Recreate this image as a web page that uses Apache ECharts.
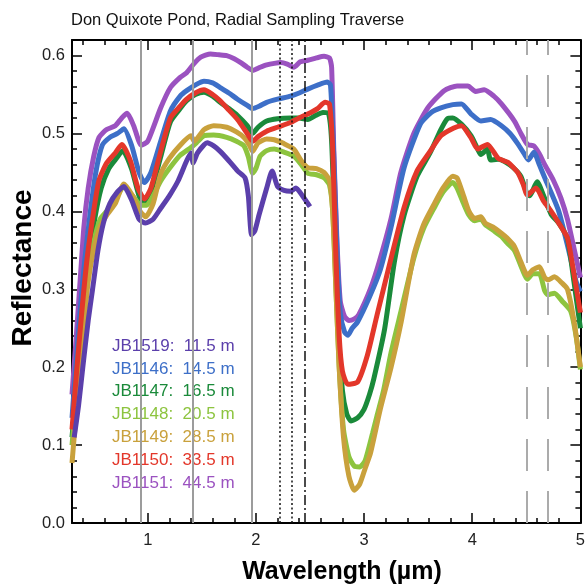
<!DOCTYPE html>
<html>
<head>
<meta charset="utf-8">
<script src="https://cdn.jsdelivr.net/npm/echarts@6/dist/echarts.min.js"></script>
<style>
  html, body { margin: 0; padding: 0; background: #fff; }
  #chart { width: 588px; height: 588px; }
</style>
</head>
<body>
<div id="chart"></div>
<script>
// samples, [wavelength um, reflectance]
const JB1519 = [[0.32,0.11],[0.36,0.15],[0.40,0.20],[0.45,0.26],[0.49,0.30],[0.54,0.35],[0.59,0.385],[0.65,0.41],[0.72,0.425],[0.78,0.432],[0.85,0.415],[0.92,0.39],[0.98,0.385],[1.05,0.39],[1.12,0.404],[1.2,0.42],[1.28,0.439],[1.36,0.465],[1.40,0.475],[1.42,0.462],[1.46,0.475],[1.55,0.488],[1.61,0.484],[1.67,0.477],[1.75,0.465],[1.83,0.452],[1.90,0.443],[1.93,0.42],[1.96,0.37],[1.99,0.375],[2.03,0.396],[2.1,0.43],[2.15,0.452],[2.2,0.432],[2.26,0.427],[2.32,0.426],[2.37,0.43],[2.43,0.42],[2.5,0.406]];
const JB1146 = [[0.30,0.135],[0.34,0.21],[0.38,0.28],[0.42,0.34],[0.47,0.40],[0.52,0.45],[0.58,0.485],[0.65,0.495],[0.72,0.50],[0.78,0.506],[0.85,0.485],[0.92,0.45],[0.97,0.437],[1.03,0.45],[1.12,0.49],[1.21,0.529],[1.3,0.548],[1.36,0.555],[1.45,0.563],[1.52,0.567],[1.6,0.565],[1.67,0.559],[1.75,0.552],[1.83,0.544],[1.92,0.536],[1.97,0.532],[2.03,0.535],[2.1,0.54],[2.2,0.544],[2.32,0.548],[2.4,0.552],[2.48,0.557],[2.57,0.562],[2.66,0.566],[2.69,0.562],[2.72,0.47],[2.75,0.35],[2.78,0.27],[2.82,0.245],[2.85,0.241],[2.89,0.25],[2.94,0.258],[3.05,0.29],[3.15,0.325],[3.25,0.38],[3.37,0.456],[3.52,0.512],[3.62,0.527],[3.71,0.533],[3.82,0.537],[3.9,0.538],[3.99,0.525],[4.08,0.516],[4.17,0.518],[4.27,0.51],[4.35,0.5],[4.42,0.487],[4.48,0.474],[4.52,0.466],[4.57,0.476],[4.62,0.46],[4.68,0.44],[4.8,0.40],[4.9,0.345],[4.96,0.31],[5.0,0.297]];
const JB1147 = [[0.30,0.11],[0.35,0.19],[0.40,0.27],[0.45,0.33],[0.51,0.39],[0.57,0.43],[0.64,0.455],[0.71,0.468],[0.77,0.478],[0.85,0.455],[0.92,0.42],[0.97,0.409],[1.03,0.425],[1.12,0.47],[1.21,0.515],[1.3,0.532],[1.36,0.542],[1.44,0.55],[1.52,0.553],[1.6,0.548],[1.67,0.54],[1.75,0.532],[1.83,0.523],[1.92,0.51],[1.97,0.5],[2.02,0.508],[2.1,0.516],[2.2,0.519],[2.32,0.52],[2.4,0.52],[2.48,0.518],[2.55,0.523],[2.62,0.527],[2.67,0.526],[2.70,0.49],[2.73,0.37],[2.76,0.25],[2.80,0.17],[2.84,0.14],[2.88,0.131],[2.94,0.135],[3.0,0.146],[3.05,0.165],[3.09,0.185],[3.19,0.249],[3.28,0.335],[3.37,0.395],[3.49,0.445],[3.61,0.475],[3.71,0.505],[3.77,0.519],[3.82,0.52],[3.9,0.512],[3.99,0.497],[4.05,0.48],[4.08,0.473],[4.14,0.48],[4.17,0.466],[4.24,0.467],[4.3,0.464],[4.38,0.456],[4.45,0.445],[4.5,0.425],[4.53,0.42],[4.6,0.438],[4.66,0.42],[4.73,0.396],[4.8,0.385],[4.88,0.365],[4.94,0.31],[5.0,0.25]];
const JB1148 = [[0.30,0.10],[0.35,0.18],[0.40,0.26],[0.45,0.32],[0.50,0.36],[0.56,0.39],[0.62,0.40],[0.70,0.415],[0.78,0.432],[0.86,0.42],[0.94,0.408],[0.99,0.408],[1.05,0.42],[1.12,0.439],[1.2,0.455],[1.3,0.472],[1.40,0.482],[1.45,0.488],[1.52,0.497],[1.61,0.498],[1.73,0.495],[1.82,0.49],[1.89,0.484],[1.93,0.47],[1.97,0.449],[2.0,0.455],[2.04,0.471],[2.1,0.478],[2.17,0.48],[2.26,0.476],[2.35,0.471],[2.42,0.46],[2.48,0.449],[2.56,0.447],[2.63,0.443],[2.68,0.434],[2.71,0.40],[2.74,0.30],[2.77,0.20],[2.81,0.12],[2.86,0.085],[2.91,0.073],[2.96,0.072],[3.01,0.08],[3.08,0.116],[3.12,0.138],[3.18,0.17],[3.25,0.219],[3.34,0.271],[3.46,0.34],[3.55,0.378],[3.65,0.405],[3.73,0.425],[3.82,0.437],[3.86,0.43],[3.92,0.41],[3.97,0.395],[4.02,0.388],[4.08,0.39],[4.12,0.383],[4.19,0.376],[4.27,0.368],[4.32,0.36],[4.39,0.35],[4.45,0.33],[4.51,0.313],[4.56,0.32],[4.62,0.32],[4.67,0.298],[4.70,0.293],[4.76,0.295],[4.83,0.285],[4.91,0.272],[4.96,0.24],[5.0,0.197]];
const JB1149 = [[0.30,0.077],[0.35,0.16],[0.40,0.24],[0.45,0.31],[0.50,0.35],[0.56,0.38],[0.62,0.395],[0.70,0.41],[0.78,0.435],[0.86,0.42],[0.93,0.40],[0.98,0.393],[1.05,0.41],[1.12,0.448],[1.2,0.468],[1.3,0.485],[1.40,0.497],[1.43,0.49],[1.52,0.505],[1.61,0.51],[1.73,0.508],[1.82,0.502],[1.89,0.495],[1.94,0.485],[1.97,0.477],[2.02,0.488],[2.1,0.493],[2.17,0.492],[2.26,0.487],[2.35,0.48],[2.42,0.465],[2.48,0.456],[2.56,0.455],[2.63,0.45],[2.68,0.44],[2.71,0.40],[2.74,0.30],[2.77,0.20],[2.81,0.11],[2.86,0.06],[2.91,0.042],[2.96,0.05],[3.01,0.07],[3.06,0.09],[3.15,0.146],[3.25,0.2],[3.34,0.256],[3.46,0.344],[3.55,0.383],[3.65,0.41],[3.73,0.43],[3.82,0.445],[3.86,0.443],[3.92,0.42],[3.97,0.40],[4.02,0.391],[4.08,0.393],[4.12,0.385],[4.19,0.38],[4.27,0.372],[4.32,0.366],[4.39,0.355],[4.45,0.335],[4.51,0.318],[4.56,0.325],[4.62,0.329],[4.67,0.315],[4.70,0.312],[4.76,0.316],[4.83,0.308],[4.88,0.30],[4.94,0.26],[5.0,0.2]];
const JB1150 = [[0.30,0.12],[0.34,0.19],[0.39,0.27],[0.44,0.34],[0.50,0.40],[0.55,0.44],[0.62,0.462],[0.70,0.475],[0.76,0.486],[0.84,0.465],[0.91,0.43],[0.97,0.416],[1.03,0.43],[1.12,0.477],[1.21,0.52],[1.3,0.535],[1.36,0.544],[1.44,0.552],[1.52,0.556],[1.6,0.55],[1.67,0.542],[1.75,0.53],[1.83,0.518],[1.92,0.5],[1.97,0.49],[2.02,0.496],[2.1,0.503],[2.2,0.508],[2.32,0.514],[2.4,0.52],[2.48,0.525],[2.57,0.532],[2.64,0.54],[2.68,0.538],[2.71,0.48],[2.74,0.34],[2.77,0.24],[2.80,0.195],[2.85,0.178],[2.94,0.181],[3.03,0.215],[3.12,0.267],[3.25,0.34],[3.37,0.405],[3.49,0.452],[3.61,0.477],[3.71,0.497],[3.83,0.507],[3.9,0.51],[3.99,0.494],[4.05,0.48],[4.14,0.486],[4.24,0.468],[4.33,0.463],[4.42,0.45],[4.47,0.435],[4.51,0.421],[4.59,0.43],[4.66,0.413],[4.73,0.40],[4.8,0.385],[4.88,0.366],[4.94,0.32],[5.0,0.27]];
const JB1151 = [[0.30,0.165],[0.34,0.24],[0.37,0.30],[0.41,0.38],[0.45,0.43],[0.50,0.47],[0.55,0.495],[0.62,0.505],[0.70,0.51],[0.76,0.52],[0.81,0.526],[0.87,0.51],[0.94,0.485],[1.0,0.49],[1.12,0.533],[1.21,0.559],[1.3,0.572],[1.36,0.578],[1.43,0.59],[1.49,0.598],[1.58,0.602],[1.66,0.601],[1.73,0.6],[1.8,0.596],[1.86,0.591],[1.92,0.585],[1.97,0.581],[2.04,0.585],[2.1,0.588],[2.17,0.59],[2.23,0.591],[2.29,0.589],[2.35,0.585],[2.41,0.592],[2.48,0.594],[2.56,0.597],[2.63,0.599],[2.68,0.597],[2.70,0.585],[2.72,0.48],[2.75,0.36],[2.78,0.285],[2.82,0.265],[2.86,0.26],[2.91,0.262],[2.95,0.267],[3.06,0.301],[3.14,0.335],[3.25,0.391],[3.34,0.45],[3.46,0.50],[3.59,0.533],[3.74,0.555],[3.86,0.561],[3.96,0.561],[4.03,0.554],[4.11,0.556],[4.2,0.548],[4.27,0.538],[4.39,0.516],[4.45,0.5],[4.51,0.486],[4.57,0.484],[4.62,0.474],[4.67,0.46],[4.75,0.44],[4.82,0.417],[4.88,0.39],[4.94,0.353],[5.0,0.315]];

const sampleNames = ['JB1519', 'JB1146', 'JB1147', 'JB1148', 'JB1149', 'JB1150', 'JB1151'];
const depths = ['11.5 m', '14.5 m', '16.5 m', '20.5 m', '28.5 m', '33.5 m', '44.5 m'];
const colors = ['#5b3fab', '#3d6fc8', '#1a8a3a', '#8dc43f', '#c9a13c', '#e3372a', '#9b52c0'];
const spectra = [JB1519, JB1146, JB1147, JB1148, JB1149, JB1150, JB1151];
const drawOrder = [6, 1, 2, 3, 4, 5, 0];   // violet at the back, red and indigo on top

// reference lines
const grayLines = [0.94, 1.42, 1.96];
const dottedLines = [2.22, 2.33];
const dashDotLines = [2.45];
const dashedLines = [4.50, 4.70];

// ticks
const xMajor = [1, 2, 3, 4, 5];
const yMajor = [0, 0.1, 0.2, 0.3, 0.4, 0.5, 0.6];
const xMinor = [];
for (let i = 2; i <= 24; i++) xMinor.push(+(i * 0.2).toFixed(1));
const yMinor = [];
for (let i = 1; i <= 30; i++) yMinor.push(+(i * 0.02).toFixed(2));

const X_MIN = 0.3, X_MAX = 5, Y_MIN = 0, Y_MAX = 0.62;
const FONT = '"Liberation Sans", Arial, Helvetica, sans-serif';

const chart = echarts.init(document.getElementById('chart'), null, { renderer: 'canvas' });

function xAx(pos, len, ticks, withLine, withLabels) {
  return {
    type: 'value', min: X_MIN, max: X_MAX, position: pos,
    axisLine: { show: withLine, onZero: false, lineStyle: { color: '#000', width: 2 } },
    axisTick: { show: true, inside: true, length: len, customValues: ticks, lineStyle: { color: '#000', width: 1.5 } },
    axisLabel: withLabels ? { show: true, customValues: xMajor, fontSize: 16.5, color: '#222', margin: 9, fontFamily: FONT } : { show: false },
    splitLine: { show: false }
  };
}
function yAx(pos, len, ticks, withLine, withLabels) {
  return {
    type: 'value', min: Y_MIN, max: Y_MAX, position: pos,
    axisLine: { show: withLine, onZero: false, lineStyle: { color: '#000', width: 2 } },
    axisTick: { show: true, inside: true, length: len, customValues: ticks, lineStyle: { color: '#000', width: 1.5 } },
    axisLabel: withLabels ? { show: true, customValues: yMajor, fontSize: 16.5, color: '#222', margin: 7, fontFamily: FONT,
      formatter: v => v.toFixed(1) } : { show: false },
    splitLine: { show: false }
  };
}

function vline(x, color, type, width) {
  return { xAxis: x, lineStyle: { color: color, type: type, width: width } };
}

const refLines = []
  .concat(grayLines.map(x => vline(x, '#9c9c9c', 'solid', 2)))
  .concat(dottedLines.map(x => vline(x, '#111', [2, 2.5], 1.5)))
  .concat(dashDotLines.map(x => vline(x, '#111', [10, 3, 2, 3], 1.5)))
  .concat(dashedLines.map(x => vline(x, '#ababab', [32, 20], 2)));

const series = [{
  name: 'refs', type: 'line', data: [], z: 1, silent: true,
  markLine: { silent: true, symbol: ['none', 'none'], label: { show: false }, animation: false, data: refLines }
}];
drawOrder.forEach(i => {
  series.push({
    name: sampleNames[i], type: 'line', data: spectra[i],
    showSymbol: false, symbol: 'none', smooth: 0.2, z: 3,
    lineStyle: { color: colors[i], width: 5 },
    itemStyle: { color: colors[i] }
  });
});

chart.setOption({
  backgroundColor: '#fff',
  animation: false,
  title: {
    text: 'Don Quixote Pond, Radial Sampling Traverse',
    left: 66, top: 7,
    textStyle: { fontSize: 16.5, fontWeight: 'normal', color: '#111', fontFamily: FONT }
  },
  grid: { left: 72, right: 5, top: 40, bottom: 65 },
  xAxis: [
    xAx('bottom', 10, xMajor, true, true),
    xAx('bottom', 5, xMinor, false, false),
    xAx('top', 10, xMajor, true, false),
    xAx('top', 5, xMinor, false, false)
  ],
  yAxis: [
    yAx('left', 10, yMajor, true, true),
    yAx('left', 5, yMinor, false, false),
    yAx('right', 10, yMajor, true, false),
    yAx('right', 5, yMinor, false, false)
  ],
  legend: {
    orient: 'vertical', left: 103, top: 333,
    padding: [4, 4], itemGap: 4.9, itemWidth: 0, itemHeight: 10, icon: 'none',
    backgroundColor: '#fff', selectedMode: false, z: 5,
    data: sampleNames.map((n, i) => ({ name: n, textStyle: { color: colors[i] } })),
    formatter: name => name + ':  ' + depths[sampleNames.indexOf(name)],
    textStyle: { fontSize: 17, lineHeight: 18, fontFamily: FONT }
  },
  graphic: [
    { type: 'text', x: 23, y: 268, rotation: Math.PI / 2,
      style: { text: 'Reflectance', font: 'bold 28px ' + FONT, fill: '#000', textAlign: 'center', textVerticalAlign: 'middle' } },
    { type: 'text', x: 342, y: 572,
      style: { text: 'Wavelength (\u00b5m)', font: 'bold 25px ' + FONT, fill: '#000', textAlign: 'center', textVerticalAlign: 'middle' } }
  ],
  series: series
});
</script>
</body>
</html>
